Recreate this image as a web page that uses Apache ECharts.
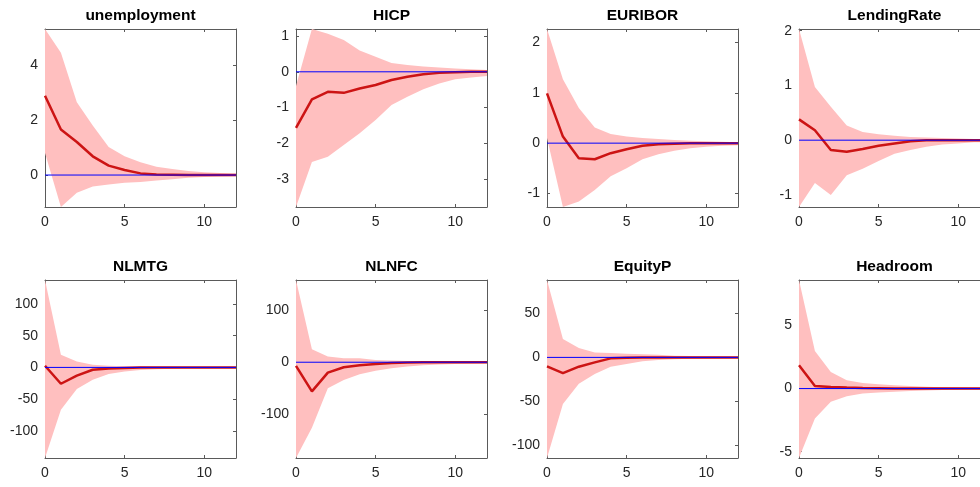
<!DOCTYPE html>
<html>
<head>
<meta charset="utf-8">
<script src="https://cdn.jsdelivr.net/npm/echarts@6/dist/echarts.min.js"></script>
<style>html,body{margin:0;padding:0;background:#fff}#c{width:980px;height:487px}</style>
</head>
<body>
<div id="c"></div>
<script>
// ---- data ----
var horizons = [0,1,2,3,4,5,6,7,8,9,10,11,12];
var titles = ['unemployment','HICP','EURIBOR','LendingRate','NLMTG','NLNFC','EquityP','Headroom'];
var yTicks = [
  [0,2,4],
  [-3,-2,-1,0,1],
  [-1,0,1,2],
  [-1,0,1,2],
  [-100,-50,0,50,100],
  [-100,0,100],
  [-100,-50,0,50],
  [-5,0,5]
];
var xTicks = [0,5,10];
var zeroLevel = 0;

var unemploymentMed = [2.88,1.65,1.2,0.68,0.34,0.18,0.06,0.02,0.01,0,0,0,0];
var unemploymentUp  = [5.3,4.44,2.64,1.8,1.02,0.68,0.46,0.3,0.22,0.15,0.1,0.07,0.05];
var unemploymentLo  = [0.8,-1.16,-0.64,-0.42,-0.34,-0.28,-0.25,-0.2,-0.15,-0.1,-0.07,-0.05,-0.04];

var hicpMed = [-1.57,-0.77,-0.56,-0.59,-0.47,-0.37,-0.23,-0.14,-0.07,-0.03,-0.01,0,0];
var hicpUp  = [-0.4,1.2,1.07,0.89,0.6,0.42,0.25,0.19,0.15,0.12,0.09,0.07,0.05];
var hicpLo  = [-3.79,-2.53,-2.38,-2.05,-1.72,-1.35,-0.93,-0.7,-0.49,-0.33,-0.21,-0.16,-0.12];

var euriborMed = [0.99,0.13,-0.3,-0.32,-0.2,-0.12,-0.05,-0.02,-0.01,0,0,0,0];
var euriborUp  = [2.27,1.27,0.7,0.31,0.18,0.13,0.1,0.08,0.06,0.05,0.04,0.03,0.02];
var euriborLo  = [0.1,-1.27,-1.16,-0.93,-0.66,-0.5,-0.32,-0.22,-0.15,-0.1,-0.07,-0.05,-0.04];

var lendingMed = [0.38,0.18,-0.18,-0.21,-0.16,-0.1,-0.06,-0.02,0,0,0,0,0];
var lendingUp  = [2.03,0.97,0.61,0.27,0.15,0.11,0.08,0.06,0.05,0.04,0.03,0.02,0.02];
var lendingLo  = [-1.22,-0.78,-1.0,-0.64,-0.52,-0.38,-0.25,-0.18,-0.12,-0.08,-0.06,-0.04,-0.03];

var nlmtgMed = [2.6,-25.8,-13,-3.7,-1.6,-0.8,-0.3,0,0,0,0,0,0];
var nlmtgUp  = [138,20,9.5,4.2,2.6,2,1.5,1.2,1,0.8,0.7,0.6,0.5];
var nlmtgLo  = [-143,-67,-34,-19.5,-10.5,-6.3,-4.2,-3,-2,-1.5,-1.2,-1,-0.8];

var nlnfcMed = [-7,-56,-20,-9.6,-5.8,-3.2,-1.3,-0.5,0,0,0,0,0];
var nlnfcUp  = [158,25,11,7.7,7.7,4.5,3.2,2.5,2,1.5,1.2,1,0.8];
var nlnfcLo  = [-184,-126,-50,-34,-23,-16.6,-11.5,-8.3,-5.8,-4.5,-3.5,-2.8,-2.3];

var equityMed = [-10.2,-17.8,-10.6,-5.7,-1.1,-0.4,0,0,0,0,0,0,0];
var equityUp  = [88,20.8,10.6,5.7,4.9,4,3.5,3,2,1.5,1.2,1,0.8];
var equityLo  = [-114.4,-53,-30,-19,-10.6,-7.6,-4.5,-3,-2,-1.5,-1.2,-1,-0.8];

var headroomMed = [1.84,0.21,0.13,0.08,0.05,0.03,0.01,0,0,0,0,0,0];
var headroomUp  = [8.6,2.97,1.32,0.66,0.45,0.34,0.27,0.2,0.15,0.1,0.08,0.06,0.05];
var headroomLo  = [-5.5,-2.37,-1.05,-0.6,-0.4,-0.32,-0.25,-0.2,-0.15,-0.12,-0.1,-0.08,-0.06];

var medians = [unemploymentMed,hicpMed,euriborMed,lendingMed,nlmtgMed,nlnfcMed,equityMed,headroomMed];
var uppers  = [unemploymentUp,hicpUp,euriborUp,lendingUp,nlmtgUp,nlnfcUp,equityUp,headroomUp];
var lowers  = [unemploymentLo,hicpLo,euriborLo,lendingLo,nlmtgLo,nlnfcLo,equityLo,headroomLo];

// ---- layout / style ----
var FONT = "'Liberation Sans', Arial, Helvetica, sans-serif";
var colLeft = [45, 296, 547, 799];
var rowTop = [29, 280];
var W = 191, H = 178;
var boxColor = '#5a5a5a';
var labelColor = '#262626';
var bandColor = '#ffbfbf';
var medColor = '#cc1414';
var zeroColor = '#0000ff';

var grids = [], xAxes = [], yAxes = [], series = [], graphics = [];

function axLine() { return {show: true, onZero: false, lineStyle: {color: boxColor, width: 1}}; }
function ticks(vals) { return {show: true, inside: true, length: 3, customValues: vals, lineStyle: {color: boxColor, width: 1}}; }

function makeBandRenderer(idx) {
  return function (params, api) {
    if (params.dataIndex !== 0) return null;
    var pts = [];
    horizons.forEach(function (h, k) { pts.push(api.coord([h, uppers[idx][k]])); });
    for (var k = horizons.length - 1; k >= 0; k--) { pts.push(api.coord([horizons[k], lowers[idx][k]])); }
    return { type: 'polygon', shape: {points: pts}, style: {fill: bandColor, stroke: null} };
  };
}
function makeZeroRenderer() {
  return function (params, api) {
    if (params.dataIndex !== 0) return null;
    var a = api.coord([horizons[0], zeroLevel]);
    var b = api.coord([horizons[horizons.length - 1], zeroLevel]);
    return { type: 'line', shape: {x1: a[0], y1: a[1], x2: b[0], y2: b[1]},
             style: {stroke: zeroColor, lineWidth: 1} };
  };
}

titles.forEach(function (t, i) {
  var r = Math.floor(i / 4), c = i % 4;
  grids.push({left: colLeft[c], top: rowTop[r], width: W, height: H, show: false,
              containLabel: false, outerBoundsMode: 'none'});
  var ymin = Math.min.apply(null, lowers[i]);
  var ymax = Math.max.apply(null, uppers[i]);
  xAxes.push({
    type: 'value', gridIndex: i, min: 0, max: 12, position: 'bottom',
    axisLine: axLine(), splitLine: {show: false}, axisTick: ticks(xTicks),
    axisLabel: {customValues: xTicks, color: labelColor, fontSize: 14, fontFamily: FONT, margin: 8}
  });
  xAxes.push({
    type: 'value', gridIndex: i, min: 0, max: 12, position: 'top',
    axisLine: axLine(), splitLine: {show: false}, axisTick: ticks(xTicks),
    axisLabel: {show: false}
  });
  yAxes.push({
    type: 'value', gridIndex: i, min: ymin, max: ymax, position: 'left',
    axisLine: axLine(), splitLine: {show: false}, axisTick: ticks(yTicks[i]),
    axisLabel: {customValues: yTicks[i], color: labelColor, fontSize: 14, fontFamily: FONT, margin: 7}
  });
  yAxes.push({
    type: 'value', gridIndex: i, min: ymin, max: ymax, position: 'right',
    axisLine: axLine(), splitLine: {show: false}, axisTick: ticks(yTicks[i]),
    axisLabel: {show: false}
  });

  var xi = i * 2, yi = i * 2;
  var bandData = horizons.map(function (h, k) { return [h, lowers[i][k], uppers[i][k]]; });
  var medData = horizons.map(function (h, k) { return [h, medians[i][k]]; });

  series.push({
    type: 'custom', xAxisIndex: xi, yAxisIndex: yi, data: bandData,
    encode: {x: 0, y: [1, 2]}, renderItem: makeBandRenderer(i),
    silent: true, z: 1, animation: false, clip: true
  });
  series.push({
    type: 'line', xAxisIndex: xi, yAxisIndex: yi, data: medData,
    symbol: 'none', silent: true, z: 3, animation: false,
    lineStyle: {color: medColor, width: 2.5}
  });
  series.push({
    type: 'custom', xAxisIndex: xi, yAxisIndex: yi, data: [[horizons[0], zeroLevel]],
    encode: {x: 0, y: 1}, renderItem: makeZeroRenderer(),
    silent: true, z: 4, animation: false, clip: true
  });

  graphics.push({
    type: 'text',
    x: colLeft[c] + W / 2,
    y: rowTop[r] - 13,
    style: {
      text: t, fill: '#000', font: 'bold 15.5px ' + FONT,
      textAlign: 'center', textVerticalAlign: 'middle'
    }
  });
});

var chart = echarts.init(document.getElementById('c'), null, {renderer: 'canvas'});
chart.setOption({
  backgroundColor: '#ffffff',
  animation: false,
  grid: grids,
  xAxis: xAxes,
  yAxis: yAxes,
  series: series,
  graphic: graphics
});
</script>
</body>
</html>
